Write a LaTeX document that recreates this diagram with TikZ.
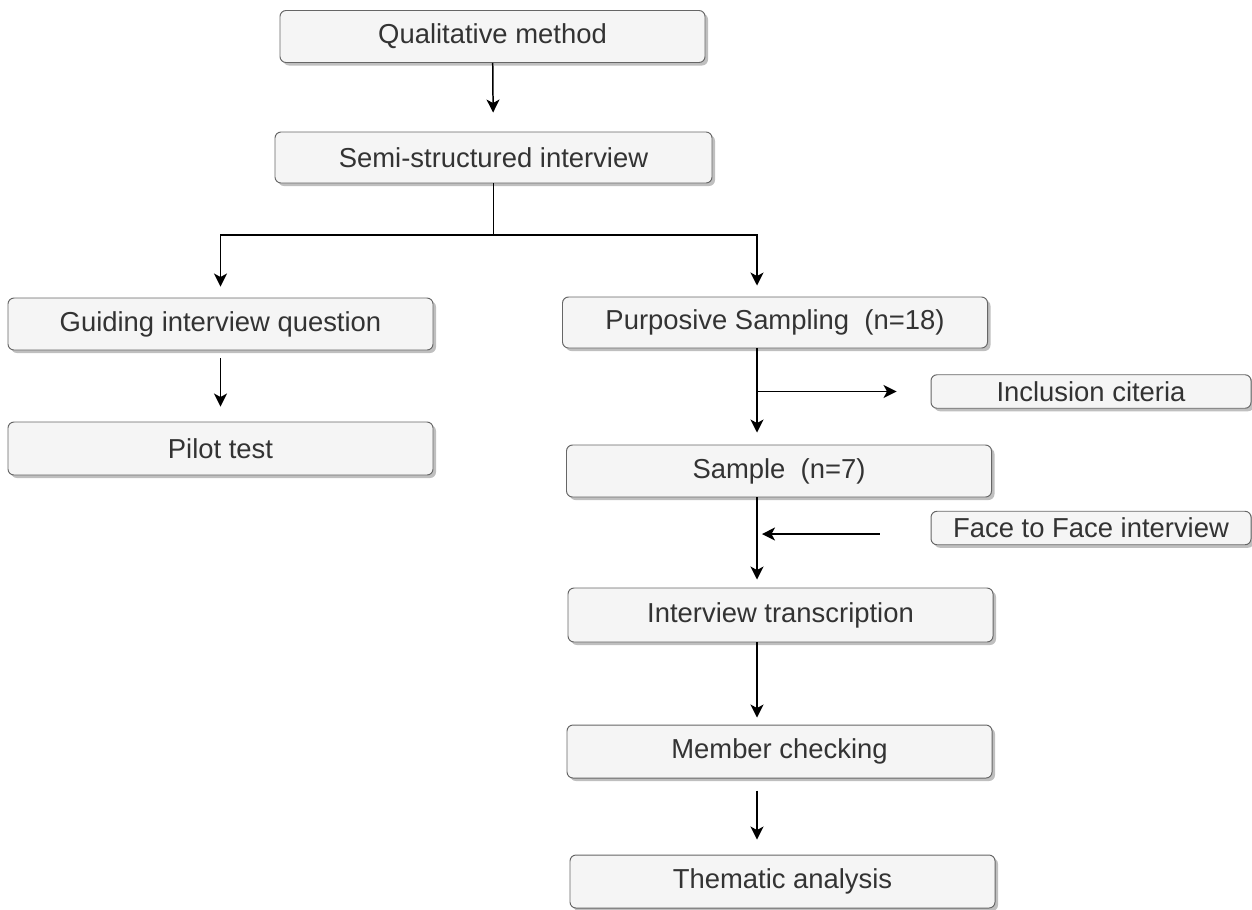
\documentclass[tikz,border=0pt]{standalone}
\usepackage{fontspec}
\setmainfont{Liberation Sans}
\usetikzlibrary{arrows.meta,shadows}
\definecolor{boxfill}{HTML}{F5F5F5}
\definecolor{boxline}{HTML}{666666}
\definecolor{boxtext}{HTML}{333333}

\begin{document}
\begin{tikzpicture}[->,>={Stealth[length=0.26cm,width=0.26cm,inset=0.07cm]},line width=0.85pt,
                    main node/.style={rectangle,rounded corners=0.12cm,draw=boxline,line width=0.55pt,fill=boxfill,text=boxtext,
                      font=\fontsize{15.6}{18}\selectfont,minimum width=8.5cm,minimum height=1.04cm,inner sep=0pt,
                      drop shadow={shadow xshift=0.06cm,shadow yshift=-0.06cm,fill=black,opacity=0.25}},
                    side node/.style={main node,minimum width=6.4cm,minimum height=0.67cm}]

  \useasboundingbox (0,0) rectangle (25.04,-18.18);

  \node[main node] (qual) at (9.85,-0.73) {Qualitative method};
  \node[main node, minimum width=8.74cm, minimum height=1.02cm] (semi) at (9.87,-3.15) {Semi-structured interview};
  \node[main node] (guide) at (4.41,-6.48) {Guiding interview question};
  \node[main node, minimum height=1.06cm] (pilot) at (4.41,-8.97) {Pilot test};
  \node[main node, minimum height=1.02cm] (purp) at (15.5,-6.45) {Purposive Sampling\ \ (n=18)};
  \node[main node] (samp) at (15.58,-9.42) {Sample\ \ (n=7)};
  \node[side node] (incl) at (21.82,-7.83) {Inclusion citeria};
  \node[side node] (face) at (21.82,-10.56) {Face to Face interview};
  \node[main node, minimum height=1.08cm] (trans) at (15.61,-12.3) {Interview transcription};
  \node[main node, minimum height=1.06cm] (memb) at (15.59,-15.03) {Member checking};
  \node[main node, minimum height=1.06cm] (them) at (15.65,-17.63) {Thematic analysis};

  \coordinate (split) at (9.87,-4.7);
  \coordinate (spine) at (15.14,0);

  \path (qual) edge [shorten >=0.38cm] (semi)
        (guide) edge [shorten <=0.16cm, shorten >=0.3cm] (pilot);
  \draw[-] (semi) -- (split);
  \draw[shorten >=0.22cm] (split) -| (guide);
  \draw[shorten >=0.22cm] (split) -| (purp.north -| spine);
  \draw[shorten >=0.24cm] (purp.south -| spine) -- (samp.north -| spine);
  \draw[shorten >=0.68cm] (spine |- incl) -- (incl);
  \draw[shorten <=1.02cm, shorten >=0.1cm] ([yshift=-0.12cm]face.west) -- ([yshift=-0.12cm]face.west -| spine);
  \draw[shorten >=0.16cm] (samp.south -| spine) -- (trans.north -| spine);
  \draw[shorten >=0.14cm] (trans.south -| spine) -- (memb.north -| spine);
  \draw[shorten <=0.24cm, shorten >=0.3cm] (memb.south -| spine) -- (them.north -| spine);
\end{tikzpicture}
\end{document}
